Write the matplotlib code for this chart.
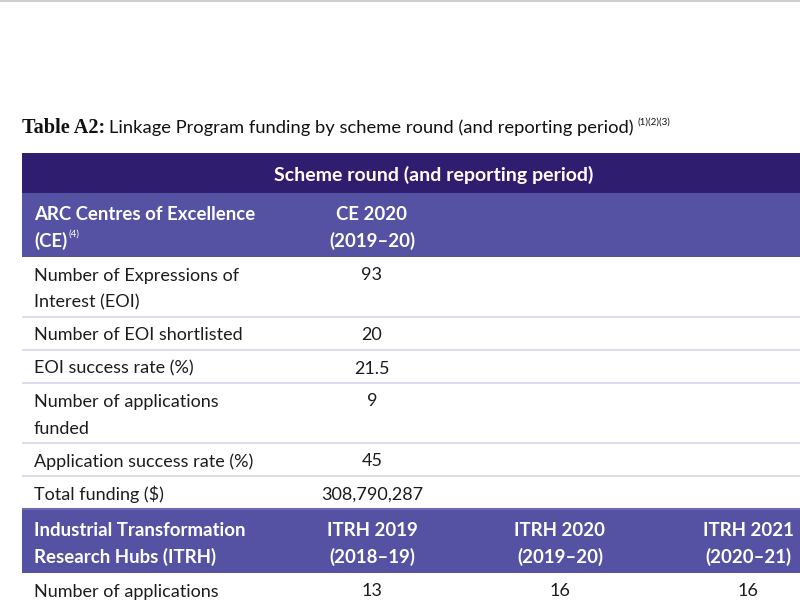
import matplotlib
matplotlib.use('Agg')
import matplotlib.pyplot as plt
from matplotlib.patches import Rectangle

# ---------------- data ----------------
title_bold = "Table A2:"
title_text = "Linkage Program funding by scheme round (and reporting period)"
title_notes = "(1)(2)(3)"
group_header = "Scheme round (and reporting period)"
ce_title = ["ARC Centres of Excellence", "(CE)"]
ce_title_note = "(4)"
ce_rounds = [["CE 2020", "(2019–20)"]]
ce_row_labels = [["Number of Expressions of", "Interest (EOI)"],
                 ["Number of EOI shortlisted"],
                 ["EOI success rate (%)"],
                 ["Number of applications", "funded"],
                 ["Application success rate (%)"],
                 ["Total funding ($)"]]
ce_values = ["93", "20", "21.5", "9", "45", "308,790,287"]
itrh_title = ["Industrial Transformation", "Research Hubs (ITRH)"]
itrh_rounds = [["ITRH 2019", "(2018–19)"], ["ITRH 2020", "(2019–20)"], ["ITRH 2021", "(2020–21)"]]
itrh_row_labels = [["Number of applications"]]
itrh_values = [["13", "16", "16"]]

# ---------------- style ----------------
FONT = ['Lato', 'DejaVu Sans']
DARK = '#2f1e6f'
MID = '#5551a3'
SEP = '#d6d4ec'
SEP_STRONG = '#6e69b3'
TXT = '#1c1c1c'
FS = 13
HFS = 13.4

X0, X1 = 22, 820
LABEL_X = 34
COL_X = [372, 560, 748]
LINE_H = 27

fig = plt.figure(figsize=(8, 6), dpi=100)
ax = fig.add_axes([0, 0, 1, 1])
ax.set_xlim(0, 800)
ax.set_ylim(600, 0)
ax.axis('off')
renderer = fig.canvas.get_renderer()

def px_width(t):
    bb = t.get_window_extent(renderer=renderer)
    return bb.width

# faint top rule
ax.plot([0, 800], [1, 1], color='#cfcfcf', lw=1.5, solid_capstyle='butt')

# title
t1 = ax.text(22, 128, title_bold, fontsize=14.6, fontweight='bold',
             family=['Liberation Serif', 'DejaVu Serif'], color='#111111', va='center', ha='left')
w1 = px_width(t1)
t2 = ax.text(22 + w1 + 4, 128, title_text, fontsize=13.2, family=FONT,
             color='#111111', va='center', ha='left')
w2 = px_width(t2)
ax.text(22 + w1 + 4 + w2 + 4, 122, title_notes, fontsize=7, family=FONT,
        color='#111111', va='center', ha='left')

def header_band(top, h, color):
    ax.add_patch(Rectangle((X0, top), X1 - X0, h, facecolor=color, edgecolor='none'))

def hline(y, color, lw=1.2):
    ax.plot([X0, X1], [y, y], color=color, lw=lw, solid_capstyle='butt')

# group header
header_band(153, 40, DARK)
ax.text(434, 175, group_header, fontsize=HFS + 0.6, family=FONT, fontweight='bold',
        color='white', ha='center', va='center')

def section_header(top, title_lines, rounds, note=None):
    header_band(top, 64, MID)
    for i, line in enumerate(title_lines):
        t = ax.text(LABEL_X, top + 22 + i * 25.5, line, fontsize=HFS, family=FONT,
                    fontweight='bold', color='white', ha='left', va='center')
        if note and i == len(title_lines) - 1:
            w = px_width(t)
            ax.text(LABEL_X + w + 1, top + 16 + i * 25.5, note, fontsize=7,
                    family=FONT, color='white', ha='left', va='center')
    for c, r in enumerate(rounds):
        for i, line in enumerate(r):
            ax.text(COL_X[c], top + 22 + i * 25.5, line, fontsize=HFS, family=FONT,
                    fontweight='bold', color='white', ha='center', va='center')
    return top + 64

def body_rows(top, labels, values, last_strong=False):
    y = top
    for k, (lab, vals) in enumerate(zip(labels, values)):
        h = 6 + LINE_H * len(lab)
        for i, line in enumerate(lab):
            ax.text(LABEL_X, y + 18.5 + i * LINE_H, line, fontsize=FS, family=FONT,
                    color=TXT, ha='left', va='center')
        if isinstance(vals, str):
            vals = [vals]
        for c, v in enumerate(vals):
            ax.text(COL_X[c], y + 18.5, v, fontsize=FS, family=FONT,
                    color=TXT, ha='center', va='center')
        y += h
        if k < len(labels) - 1:
            hline(y, SEP)
        elif last_strong:
            hline(y, SEP_STRONG, lw=1.5)
    return y

y = section_header(193, ce_title, ce_rounds, note=ce_title_note)
y = body_rows(y, ce_row_labels, ce_values, last_strong=True)
y = section_header(y, itrh_title, itrh_rounds)
y = body_rows(y, itrh_row_labels, itrh_values)

fig.savefig('out.png', dpi=100, facecolor='white')
